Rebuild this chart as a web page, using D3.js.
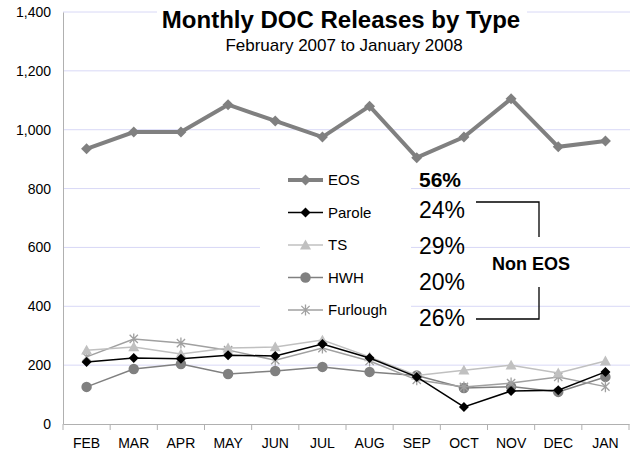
<!DOCTYPE html>
<html>
<head>
<meta charset="utf-8">
<script src="https://cdn.jsdelivr.net/npm/d3@7"></script>
<style>
  body { margin: 0; background: #fff; }
  svg { font-family: "Liberation Sans", Arial, sans-serif; }
</style>
</head>
<body>
<div id="chart"></div>
<script>
// Monthly DOC releases, Feb 2007 - Jan 2008
const months = ["FEB", "MAR", "APR", "MAY", "JUN", "JUL", "AUG", "SEP", "OCT", "NOV", "DEC", "JAN"];
const eos      = [935, 992, 992, 1085, 1030, 975, 1080, 905, 975, 1105, 942, 962];
const parole   = [211, 224, 222, 234, 231, 272, 224, 160, 58, 112, 115, 177];
const ts       = [251, 262, 238, 258, 262, 285, 228, 165, 183, 200, 173, 214];
const hwh      = [126, 187, 204, 170, 180, 194, 177, 165, 122, 127, 109, 160];
const furlough = [228, 289, 275, 251, 217, 258, 214, 150, 126, 139, 160, 127];
const yTicks = [0, 200, 400, 600, 800, 1000, 1200, 1400];
const shares = ["56%", "24%", "29%", "20%", "26%"];

const series = [
  { name: "EOS", values: eos, color: "#808080", width: 4, marker: "diamond", size: 11 },
  { name: "Parole", values: parole, color: "#000000", width: 1.5, marker: "diamond", size: 10 },
  { name: "TS", values: ts, color: "#c0c0c0", width: 1.5, marker: "triangle", size: 11 },
  { name: "HWH", values: hwh, color: "#808080", width: 1.5, marker: "circle", size: 11 },
  { name: "Furlough", values: furlough, color: "#a0a0a0", width: 1.5, marker: "star", size: 11 }
];

const W = 632, H = 457;
const margin = { top: 12, right: 3, bottom: 33, left: 63 };

const svg = d3.select("#chart").append("svg")
  .attr("width", W)
  .attr("height", H);

const x = d3.scaleBand()
  .domain(months)
  .range([margin.left, W - margin.right]);

const y = d3.scaleLinear()
  .domain([0, 1400])
  .range([H - margin.bottom, margin.top]);

// gridlines
svg.append("g")
  .selectAll("line")
  .data(yTicks.filter(d => d > 0))
  .enter().append("line")
  .attr("x1", margin.left)
  .attr("x2", W - 2)
  .attr("y1", d => y(d))
  .attr("y2", d => y(d))
  .attr("stroke", "#d8d8f6")
  .attr("stroke-width", 1);

// y axis
const yAxis = svg.append("g")
  .attr("transform", `translate(${margin.left},0)`)
  .call(d3.axisLeft(y).tickValues(yTicks).tickSize(0).tickPadding(12).tickFormat(d3.format(",")));
yAxis.select(".domain").attr("stroke", "#b0b0b0");
yAxis.selectAll("text").style("font-size", "14px").style("fill", "#000");

// x axis
const xAxis = svg.append("g")
  .attr("transform", `translate(0,${y(0)})`)
  .call(d3.axisBottom(x).tickSize(0).tickPadding(14));
xAxis.select(".domain").attr("stroke", "#b0b0b0");
xAxis.selectAll("text").style("font-size", "14px").style("fill", "#000");

// tick marks at band boundaries
xAxis.selectAll(".bound")
  .data(months.concat(["_end"]))
  .enter().append("line")
  .attr("class", "bound")
  .attr("x1", (d, i) => x.range()[0] + i * x.step())
  .attr("x2", (d, i) => x.range()[0] + i * x.step())
  .attr("y1", 0)
  .attr("y2", 6)
  .attr("stroke", "#b0b0b0");

// marker drawing helper
function drawMarker(sel, s) {
  const r = s.size / 2;
  if (s.marker === "diamond") {
    sel.append("path")
      .attr("d", `M0,${-r}L${r},0L0,${r}L${-r},0Z`)
      .attr("fill", s.color);
  } else if (s.marker === "triangle") {
    sel.append("path")
      .attr("d", `M0,${-r}L${r},${r * 0.8}L${-r},${r * 0.8}Z`)
      .attr("fill", s.color);
  } else if (s.marker === "circle") {
    sel.append("circle")
      .attr("r", r * 0.95)
      .attr("fill", s.color);
  } else if (s.marker === "star") {
    const a = r * 0.75;
    sel.append("path")
      .attr("d", `M0,${-r}V${r}M${-a},${-a}L${a},${a}M${-a},${a}L${a},${-a}`)
      .attr("stroke", s.color)
      .attr("stroke-width", 1.3)
      .attr("fill", "none");
  }
}

const line = d3.line()
  .x((d, i) => x(months[i]) + x.bandwidth() / 2)
  .y(d => y(d));

// draw series, lower ones first
const drawOrder = ["HWH", "Furlough", "TS", "Parole", "EOS"];
drawOrder.forEach(name => {
  const s = series.find(d => d.name === name);
  const g = svg.append("g");
  g.append("path")
    .datum(s.values)
    .attr("d", line)
    .attr("fill", "none")
    .attr("stroke", s.color)
    .attr("stroke-width", s.width);
  g.selectAll(".pt")
    .data(s.values)
    .enter().append("g")
    .attr("class", "pt")
    .attr("transform", (d, i) => `translate(${x(months[i]) + x.bandwidth() / 2},${y(d)})`)
    .each(function() { drawMarker(d3.select(this), s); });
});

// title box
svg.append("rect")
  .attr("x", 157).attr("y", 4)
  .attr("width", 370).attr("height", 52)
  .attr("fill", "#fff");
svg.append("text")
  .attr("x", 341).attr("y", 28)
  .attr("text-anchor", "middle")
  .style("font-size", "24px")
  .style("font-weight", "bold")
  .text("Monthly DOC Releases by Type");
svg.append("text")
  .attr("x", 344).attr("y", 51)
  .attr("text-anchor", "middle")
  .style("font-size", "17px")
  .text("February 2007 to January 2008");

// legend
const legend = svg.append("g");
legend.append("rect")
  .attr("x", 260).attr("y", 164)
  .attr("width", 151).attr("height", 162)
  .attr("fill", "#fff");

const legendItems = legend.selectAll(".legend-item")
  .data(series)
  .enter().append("g")
  .attr("class", "legend-item")
  .attr("transform", (d, i) => `translate(288, ${180 + i * 32.5})`);

legendItems.append("line")
  .attr("x1", 0).attr("x2", 35)
  .attr("stroke", d => d.color)
  .attr("stroke-width", d => d.width);

legendItems.append("g")
  .attr("transform", "translate(17.5,0)")
  .each(function(d) { drawMarker(d3.select(this), d); });

legendItems.append("text")
  .attr("x", 40)
  .attr("dy", "0.36em")
  .style("font-size", "15px")
  .text(d => d.name);

// shares
svg.selectAll(".share")
  .data(shares)
  .enter().append("text")
  .attr("class", "share")
  .attr("x", 419)
  .attr("y", (d, i) => i === 0 ? 187 : 218 + (i - 1) * 36)
  .style("font-size", (d, i) => i === 0 ? "21px" : "23px")
  .style("font-weight", (d, i) => i === 0 ? "bold" : "normal")
  .text(d => d);

// Non EOS bracket
svg.append("path")
  .attr("d", "M476,202H539V237M539,287V319H476")
  .attr("fill", "none")
  .attr("stroke", "#000")
  .attr("stroke-width", 1.3);
svg.append("text")
  .attr("x", 531).attr("y", 270)
  .attr("text-anchor", "middle")
  .style("font-size", "18px")
  .style("font-weight", "bold")
  .text("Non EOS");
</script>
</body>
</html>
